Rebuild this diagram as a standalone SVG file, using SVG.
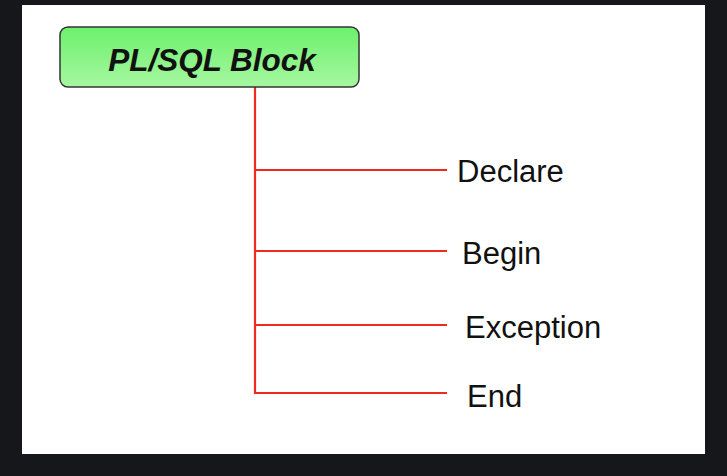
<svg xmlns="http://www.w3.org/2000/svg" width="727" height="476" viewBox="0 0 727 476">
<style>
.lbl{font-family:"Liberation Sans",Arial,sans-serif;font-size:31px;fill:#111}
.title{font-family:"Liberation Sans",Arial,sans-serif;font-size:31.5px;font-weight:bold;font-style:italic;fill:#111}
.conn{stroke:#ee2a1c;stroke-width:2.2;fill:none}
</style>
<defs>
<linearGradient id="g" x1="0" y1="0" x2="0" y2="1">
<stop offset="0" stop-color="#6cf06c"/>
<stop offset="1" stop-color="#a6f7a0"/>
</linearGradient>
</defs>
<rect x="0" y="0" width="727" height="476" fill="#16171b"/>
<rect x="22" y="5" width="683" height="449" fill="#ffffff"/>
<g id="connectors">
<path class="conn" d="M255 87 V393 H447 M255 170 H447 M255 251 H447 M255 325 H447"/>
</g>
<g id="plsql-block">
<rect x="60" y="27" width="299" height="60" rx="8" fill="url(#g)" stroke="#333" stroke-width="1.5"/>
<text class="title" x="212" y="71" text-anchor="middle">PL/SQL Block</text>
</g>
<g id="declare"><text class="lbl" x="457" y="182">Declare</text></g>
<g id="begin"><text class="lbl" x="462" y="264">Begin</text></g>
<g id="exception"><text class="lbl" x="465" y="338">Exception</text></g>
<g id="end"><text class="lbl" x="467" y="407">End</text></g>
</svg>
